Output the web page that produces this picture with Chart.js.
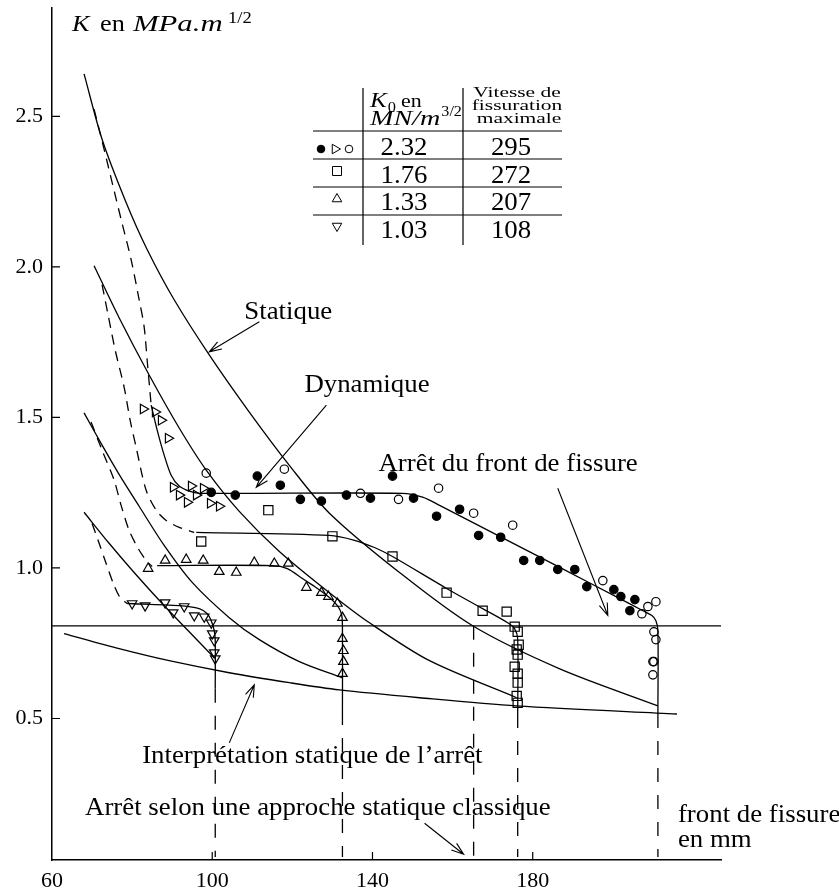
<!DOCTYPE html>
<html>
<head>
<meta charset="utf-8">
<script src="https://cdn.jsdelivr.net/npm/chart.js"></script>
<style>
  html, body { margin: 0; padding: 0; background: #fff; }
  #wrap { width: 839px; height: 895px; position: relative; }
</style>
</head>
<body>
<div id="wrap"><canvas id="line-chart"></canvas></div>
<script>
// x : crack front position (mm), y : K (MPa.m^1/2)
const xTicks = [60, 100, 140, 180];
const yTicks = [0.5, 1.0, 1.5, 2.0, 2.5];

// static K curves, one per K0
const static1 = [[68.0,2.641],[72.5,2.424],[78.5,2.214],[83.75,2.058],[90.5,1.891],[99.25,1.708],[109.25,1.518],[119.25,1.341],[129.25,1.182],[146.75,0.985],[165.0,0.808],[186.75,0.665],[211.25,0.542]];
const static2 = [[70.5,2.004],[76.75,1.831],[84.25,1.641],[91.75,1.465],[98.5,1.325],[106.75,1.188],[116.75,1.055],[129.25,0.918],[139.25,0.818],[154.25,0.692],[176.0,0.569]];
const static3 = [[68.0,1.515],[72.5,1.408],[76.75,1.311],[81.75,1.205],[88.0,1.075],[95.0,0.952],[104.25,0.835],[111.75,0.762],[121.75,0.689],[132.5,0.635]];
const static4 = [[68.0,1.185],[74.25,1.082],[80.5,0.985],[87.5,0.882],[94.25,0.788],[100.5,0.702]];
const staticArrest = [[63.0,0.782],[76.75,0.732],[89.25,0.692],[104.25,0.652],[119.25,0.619],[131.75,0.595],[151.75,0.569],[176.0,0.542],[216.0,0.515]];

// dynamic K curves (dashed start, then solid)
const dyn1Dash = [[70.5,2.524],[73.0,2.391],[75.0,2.281],[77.25,2.158],[79.75,2.024],[81.75,1.891],[83.0,1.801],[83.75,1.691],[84.75,1.541]];
const dyn1 = [[84.75,1.541],[86.25,1.458],[88.0,1.375],[89.75,1.308],[91.75,1.272],[94.25,1.255],[96.75,1.248],[147.5,1.248],[152.5,1.235],[156.75,1.208],[171.75,1.105],[186.75,1.002],[201.75,0.898],[207.5,0.858],[209.75,0.842],[210.75,0.825],[211.25,0.792],[211.25,0.515]];
const dyn2Dash = [[72.5,1.941],[74.0,1.841],[75.75,1.725],[78.0,1.601],[79.5,1.491],[81.0,1.401],[83.5,1.258],[86.0,1.192],[88.5,1.158],[91.75,1.135],[95.5,1.118]];
const dyn2 = [[96.0,1.118],[129.25,1.108],[135.5,1.092],[140.5,1.068],[145.0,1.038],[158.5,0.932],[167.5,0.865],[173.75,0.818],[175.5,0.798],[176.25,0.765],[176.25,0.515]];
const dyn3Dash = [[69.75,1.485],[72.5,1.391],[75.5,1.292],[77.25,1.208],[79.25,1.125],[81.5,1.065],[83.5,1.025],[85.0,1.005]];
const dyn3 = [[86.25,1.008],[115.0,1.008],[118.75,0.998],[122.5,0.965],[126.25,0.932],[129.25,0.902],[131.25,0.875],[132.25,0.848],[132.5,0.808],[132.5,0.525]];
const dyn4Dash = [[70.0,1.148],[71.5,1.092],[73.25,1.025],[75.5,0.942],[77.0,0.902],[78.75,0.882]];
const dyn4 = [[78.75,0.882],[91.75,0.875],[96.75,0.865],[98.75,0.848],[99.75,0.825],[100.5,0.792],[100.75,0.759],[100.75,0.599]];

// arrest toughness level and arrest positions
const kArrest = 0.808;
const arrestX = [100.75, 132.5, 165.25, 176.25, 211.25];
const arrestTop = [0.599, 0.525, 0.808, 0.515, 0.515];
const arrestBottom = 0.04;

// measured points
const filledCircles = [[99.75,1.251],[105.75,1.242],[111.25,1.305],[117.0,1.275],[122.0,1.228],[127.25,1.222],[133.5,1.242],[139.5,1.232],[145.0,1.305],[150.25,1.232],[156.0,1.172],[161.75,1.195],[166.5,1.108],[172.0,1.102],[177.75,1.025],[181.75,1.025],[186.25,0.995],[190.5,0.995],[193.5,0.938],[200.25,0.928],[202.0,0.905],[205.5,0.895],[204.25,0.858]];
const openCircles = [[98.5,1.315],[118.0,1.328],[137.0,1.248],[146.5,1.228],[156.5,1.265],[165.25,1.182],[175.0,1.142],[197.5,0.958],[207.25,0.848],[208.75,0.872],[210.75,0.888],[210.25,0.788],[210.75,0.762],[210.0,0.689],[210.25,0.689],[210.0,0.645]];
const rightTriangles = [[82.75,1.528],[85.75,1.518],[87.25,1.491],[89.0,1.431],[90.25,1.268],[91.75,1.242],[93.75,1.218],[94.75,1.272],[96.0,1.242],[97.75,1.265],[99.5,1.215],[101.75,1.205]];
const squares = [[97.25,1.088],[114.0,1.192],[130.0,1.105],[145.0,1.038],[158.5,0.918],[167.5,0.858],[173.5,0.855],[175.5,0.805],[176.25,0.788],[176.5,0.745],[176.0,0.729],[176.25,0.712],[175.5,0.672],[176.25,0.649],[176.25,0.619],[176.0,0.575],[176.25,0.552]];
const upTriangles = [[84.0,0.998],[88.25,1.025],[93.5,1.028],[97.75,1.025],[101.75,0.988],[106.0,0.985],[110.5,1.018],[115.5,1.015],[119.0,1.015],[123.5,0.935],[127.25,0.918],[129.0,0.905],[131.25,0.882],[132.5,0.835],[132.5,0.765],[132.75,0.725],[132.75,0.689],[132.5,0.649]];
const downTriangles = [[80.0,0.882],[83.25,0.875],[88.25,0.885],[90.25,0.852],[93.0,0.872],[95.5,0.842],[98.0,0.838],[99.75,0.818],[100.0,0.782],[100.5,0.759],[100.5,0.719],[100.75,0.699]];

// table
const k0Values = ['2.32', '1.76', '1.33', '1.03'];
const maxSpeed = ['295', '272', '207', '108'];

// annotations (data coordinates)
const notes = [
  { text: 'Statique', at: [108.0, 1.828], from: [111.75, 1.818], to: [99.25, 1.718] },
  { text: 'Dynamique', at: [123.0, 1.585], from: [128.5, 1.541], to: [111.0, 1.268] },
  { text: 'Arrêt du front de fissure', at: [141.5, 1.321], from: [186.25, 1.265], to: [198.75, 0.842] },
  { text: 'Interprétation statique de l’arrêt', at: [82.5, 0.352], from: [104.25, 0.419], to: [110.5, 0.612] },
  { text: 'Arrêt selon une approche statique classique', at: [68.25, 0.179], from: [153.0, 0.152], to: [162.75, 0.049] },
  { text: 'front de fissure', at: [216.25, 0.156] },
  { text: 'en mm', at: [216.25, 0.072] }
];

const FONT = '"Liberation Serif", "Times New Roman", serif';
const SX = 1.095;

const pts = arr => arr.map(([x, y]) => ({ x, y }));

function curve(arr, dash, tension) {
  return {
    data: pts(arr), showLine: true, fill: false,
    borderColor: '#000', borderWidth: 1.3, borderDash: dash || [],
    pointRadius: 0, tension: tension === undefined ? 0.3 : tension
  };
}

function marks(arr, style, rot, filled, r) {
  return {
    data: pts(arr), showLine: false,
    pointStyle: style, pointRotation: rot, pointRadius: r,
    pointBorderColor: '#000', pointBorderWidth: 1.2,
    pointBackgroundColor: filled ? '#000' : 'rgba(0,0,0,0)'
  };
}

const DASH = [10, 7];
let datasets = [
  curve(static1), curve(static2), curve(static3), curve(static4), curve(staticArrest),
  curve(dyn1Dash, DASH), curve(dyn1), curve(dyn2Dash, DASH), curve(dyn2),
  curve(dyn3Dash, DASH), curve(dyn3), curve(dyn4Dash, DASH), curve(dyn4),
  curve([[60, kArrest], [227, kArrest]], [], 0)
];
arrestX.forEach((x, i) => {
  datasets.push(curve([[x, arrestTop[i]], [x, arrestBottom]], [14, 13], 0));
});
datasets.push(
  marks(filledCircles, 'circle', 0, true, 4.2),
  marks(openCircles, 'circle', 0, false, 4.2),
  marks(rightTriangles, 'triangle', 90, false, 5.5),
  marks(squares, 'rect', 0, false, 6.5),
  marks(upTriangles, 'triangle', 0, false, 5.5),
  marks(downTriangles, 'triangle', 180, false, 5.5)
);

function text(ctx, str, x, y, size, italic, align, sx) {
  ctx.save();
  ctx.font = (italic ? 'italic ' : '') + size + 'px ' + FONT;
  ctx.translate(x, y);
  ctx.scale(sx || SX, 1);
  ctx.textAlign = align || 'left';
  ctx.textBaseline = 'alphabetic';
  ctx.fillStyle = '#000';
  ctx.fillText(str, 0, 0);
  const w = ctx.measureText(str).width * (sx || SX);
  ctx.restore();
  return w;
}

function arrow(ctx, x1, y1, x2, y2) {
  const a = Math.atan2(y2 - y1, x2 - x1), L = 13, w = 0.33;
  ctx.beginPath();
  ctx.moveTo(x1, y1); ctx.lineTo(x2, y2);
  ctx.moveTo(x2 - L * Math.cos(a - w), y2 - L * Math.sin(a - w));
  ctx.lineTo(x2, y2);
  ctx.lineTo(x2 - L * Math.cos(a + w), y2 - L * Math.sin(a + w));
  ctx.stroke();
}

function sym(ctx, type, x, y) {
  ctx.beginPath();
  if (type === 'dot' || type === 'ring') {
    ctx.arc(x, y, 3.8, 0, Math.PI * 2);
  } else if (type === 'square') {
    ctx.rect(x - 4.5, y - 4.5, 9, 9);
  } else {
    const rot = { right: 90, up: 0, down: 180 }[type] * Math.PI / 180;
    for (let k = 0; k < 3; k++) {
      const r = rot + k * 2 * Math.PI / 3;
      const px = x + Math.sin(r) * 5.5, py = y - Math.cos(r) * 5.5;
      k ? ctx.lineTo(px, py) : ctx.moveTo(px, py);
    }
    ctx.closePath();
  }
  if (type === 'dot') ctx.fill();
  ctx.stroke();
}

const overlay = {
  id: 'overlay',
  afterDatasetsDraw(chart) {
    const { ctx, chartArea: area, scales: { x, y } } = chart;
    const P = ([a, b]) => [x.getPixelForValue(a), y.getPixelForValue(b)];
    ctx.save();
    ctx.strokeStyle = '#000';
    ctx.fillStyle = '#000';
    ctx.lineWidth = 1.2;

    // inward ticks
    ctx.beginPath();
    yTicks.forEach(v => {
      const py = y.getPixelForValue(v);
      ctx.moveTo(area.left, py); ctx.lineTo(area.left + 8, py);
    });
    xTicks.slice(1).forEach(v => {
      const px = x.getPixelForValue(v);
      ctx.moveTo(px, area.bottom); ctx.lineTo(px, area.bottom - 8);
    });
    ctx.stroke();

    // axis title
    text(ctx, 'K', 72, 31, 24, true);
    text(ctx, 'en', 100, 31, 24, false);
    text(ctx, 'MPa.m', 133, 31, 24, true, 'left', 1.28);
    text(ctx, '1/2', 228, 23, 17, false);

    // annotations
    ctx.lineWidth = 1.1;
    notes.forEach(n => {
      const [tx, ty] = P(n.at);
      text(ctx, n.text, tx, ty, 24.5, false);
      if (n.from) {
        const [x1, y1] = P(n.from), [x2, y2] = P(n.to);
        arrow(ctx, x1, y1, x2, y2);
      }
    });

    // table
    const T = { left: 313, c1: 363, c2: 463, right: 562, top: 88, bottom: 245, head: 131 };
    const rules = [159, 187, 215];
    ctx.lineWidth = 1.2;
    ctx.beginPath();
    ctx.moveTo(T.c1, T.top); ctx.lineTo(T.c1, T.bottom);
    ctx.moveTo(T.c2, T.top); ctx.lineTo(T.c2, T.bottom);
    [T.head].concat(rules).forEach(r => { ctx.moveTo(T.left, r); ctx.lineTo(T.right, r); });
    ctx.stroke();

    let w = text(ctx, 'K', 370, 107, 21, true, 'left', 1.2);
    text(ctx, '0', 371 + w, 112, 15, false);
    text(ctx, 'en', 401, 107, 19, false, 'left', 1.15);
    w = text(ctx, 'MN/m', 370, 125, 21, true, 'left', 1.34);
    text(ctx, '3/2', 371 + w, 116, 14, false, 'left', 1.15);
    text(ctx, 'Vitesse de', 517, 97, 14.5, false, 'center', 1.48);
    text(ctx, 'fissuration', 517, 110, 14.5, false, 'center', 1.48);
    text(ctx, 'maximale', 519, 123, 14.5, false, 'center', 1.48);

    const base = [155, 182.5, 210, 237.5];
    k0Values.forEach((v, i) => {
      text(ctx, v, 404, base[i], 24.5, false, 'center');
      text(ctx, maxSpeed[i], 511, base[i], 24.5, false, 'center');
    });
    ctx.lineWidth = 1;
    sym(ctx, 'dot', 321, 149);
    sym(ctx, 'right', 335, 149);
    sym(ctx, 'ring', 349, 149);
    sym(ctx, 'square', 337, 171);
    sym(ctx, 'up', 337, 199);
    sym(ctx, 'down', 337, 226);
    ctx.restore();
  }
};

new Chart(document.getElementById('line-chart'), {
  type: 'scatter',
  data: { datasets: datasets },
  options: {
    responsive: true,
    maintainAspectRatio: false,
    animation: false,
    layout: { padding: { top: 8, right: 118, left: 0, bottom: 0 } },
    plugins: { legend: { display: false }, tooltip: { enabled: false } },
    scales: {
      x: {
        type: 'linear', min: 60, max: 227,
        afterBuildTicks: s => { s.ticks = xTicks.map(v => ({ value: v })); },
        afterFit: s => { s.height = 35; s.paddingLeft = 0; s.paddingRight = 0; },
        grid: { display: false, drawTicks: false },
        border: { color: '#000', width: 1.5 },
        ticks: { color: '#000', font: { family: FONT, size: 22 }, padding: 8, maxRotation: 0, autoSkip: false }
      },
      y: {
        type: 'linear', min: 0.03, max: 2.86,
        afterBuildTicks: s => { s.ticks = yTicks.map(v => ({ value: v })); },
        afterFit: s => { s.width = 52; s.paddingTop = 0; s.paddingBottom = 0; },
        grid: { display: false, drawTicks: false },
        border: { color: '#000', width: 1.5 },
        ticks: { color: '#000', font: { family: FONT, size: 22 }, padding: 9, callback: v => v.toFixed(1) }
      }
    }
  },
  plugins: [overlay]
});
</script>
</body>
</html>
